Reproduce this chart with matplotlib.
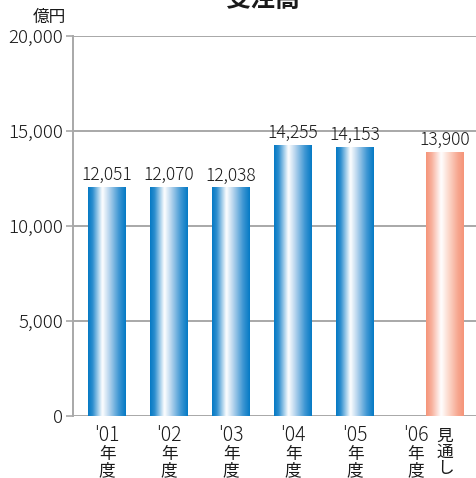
import numpy as np
from matplotlib import pyplot as plt
from matplotlib.colors import LinearSegmentedColormap
import matplotlib.transforms as mtransforms

plt.rcParams['font.family'] = ['Noto Sans CJK JP', 'DejaVu Sans']

years = ["'01", "'02", "'03", "'04", "'05", "'06"]
values = [12051, 12070, 12038, 14255, 14153, 13900]
positions = [0, 1, 2, 3, 4, 5.45]
forecast = [False, False, False, False, False, True]
yticks = [0, 5000, 10000, 15000, 20000]

blue = LinearSegmentedColormap.from_list('blue', [
    (0.0, '#0479C4'), (0.12, '#2B8DCE'), (0.38, '#FFFFFF'),
    (0.55, '#B9D6EE'), (0.82, '#3D96D3'), (1.0, '#0479C4')])
salmon = LinearSegmentedColormap.from_list('salmon', [
    (0.0, '#F59478'), (0.15, '#F8B09C'), (0.4, '#FFFFFF'),
    (0.6, '#FCD8CB'), (0.85, '#F7A58E'), (1.0, '#F59478')])

fig = plt.figure(figsize=(4.76, 4.78), dpi=100)
ax = fig.add_axes([73/476, 62/478, 403/476, 380/478])

ax.set_xlim(-0.55, 5.95)
ax.set_ylim(0, 20000)

for y in yticks:
    ax.axhline(y, color='#A8A8A8', lw=1.4, zorder=1)

bars = ax.bar(positions, values, width=0.61, facecolor='none', edgecolor='none', zorder=2)
grad = np.linspace(0, 1, 256).reshape(1, -1)
for b, v, f in zip(bars, values, forecast):
    x0 = b.get_x()
    w = b.get_width()
    im = ax.imshow(grad, cmap=salmon if f else blue, aspect='auto',
                   extent=[x0, x0 + w, 0, v], zorder=3, interpolation='bicubic')
    im.set_clip_path(b)
    ax.text(x0 + w/2, v + 150, f'{v:,}', ha='center', va='bottom',
            fontsize=12.5, fontweight='light', color='#1A1A1A', zorder=4)

ax.set_xlim(-0.55, 5.95)
ax.set_ylim(0, 20000)

for s in ['top', 'right']:
    ax.spines[s].set_visible(False)
ax.spines['left'].set_color('#A8A8A8')
ax.spines['left'].set_linewidth(1.4)
ax.spines['bottom'].set_visible(False)

ax.set_yticks(yticks)
ax.set_yticklabels([f'{t:,}' for t in yticks], fontsize=13.5, fontweight='light', color='#1A1A1A')
ax.tick_params(axis='y', length=5, color='#A8A8A8', width=1.2, pad=2)
ax.set_xticks([])

trans = mtransforms.blended_transform_factory(ax.transData, fig.transFigure)
for p, yr, f in zip(positions, years, forecast):
    xp = p - 0.47 if f else p
    ax.text(xp, 1 - 425/478, yr, transform=trans, ha='center', va='top', fontsize=14,
            fontweight='light', color='#1A1A1A')
    ax.text(xp, 1 - 446/478, '年\n度', transform=trans, ha='center', va='top',
            fontsize=12, color='#1A1A1A', linespacing=0.92)
    if f:
        ax.text(p, 1 - 428/478, '見\n通\nし', transform=trans, ha='center', va='top',
                fontsize=12, color='#1A1A1A', linespacing=0.92)

fig.text(66/476, 1 - 26/478, '億円', ha='right', va='bottom', fontsize=12, color='#1A1A1A')
fig.text(263/476, 1 - 7/478, '受注高', ha='center', va='baseline', fontsize=18,
         fontweight='bold', color='#1A1A1A')

fig.savefig('out.png', dpi=100, facecolor='white')
